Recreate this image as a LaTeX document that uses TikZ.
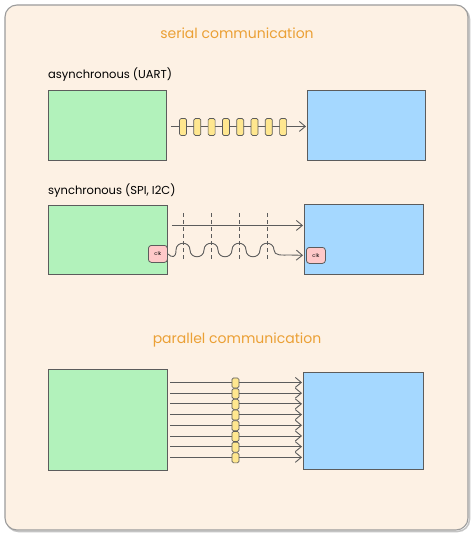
\documentclass[tikz,border=0pt]{standalone}
\usepackage{fontspec}
\setmainfont{Poppins}
\usetikzlibrary{arrows.meta,calc}
\definecolor{paper}{HTML}{FDF1E4}
\definecolor{framegray}{HTML}{9C9C9C}
\definecolor{inkgray}{HTML}{5C5C5C}
\definecolor{titleorange}{HTML}{EBA035}
\definecolor{txgreen}{HTML}{B2F2BB}
\definecolor{rxblue}{HTML}{A5D8FF}
\definecolor{bityellow}{HTML}{FFE78F}
\definecolor{clkpink}{HTML}{FFC9C9}
\tikzset{
	devbox/.style={draw=inkgray, line width=0.9pt, inner sep=0pt, anchor=north west},
	txbox/.style={devbox, fill=txgreen},
	rxbox/.style={devbox, fill=rxblue},
	wire/.style={draw=inkgray, line width=0.9pt, -{Straight Barb[length=6pt,width=10pt]}},
	bit/.style={draw=inkgray, fill=bityellow, line width=0.7pt, rounded corners=1.5pt, minimum width=7, minimum height=17, inner sep=0pt},
	pbit/.style={bit, minimum height=10},
	clkbox/.style={draw=inkgray, fill=clkpink, line width=0.8pt, rounded corners=3pt, inner sep=0pt, anchor=north west, font=\fontsize{5}{6}\selectfont},
	heading/.style={text=titleorange, font=\fontsize{14}{16}\selectfont},
	caption/.style={anchor=west, inner sep=0pt, font=\fontsize{11.5}{13}\selectfont},
	tick/.style={draw=inkgray, line width=0.7pt, dash pattern=on 4pt off 3pt}
}

\begin{document}
\begin{tikzpicture}[x=1pt, y=-1pt]
		%%%%% START %%%%%
		\useasboundingbox[fill=white] (0, 0) rectangle (474, 537);
		
		\draw[line width=1.5pt, color=framegray!60, rounded corners=12pt] (6.5, 7) rectangle (469.5, 531.5);
		\draw[line width=1.1pt, color=framegray, fill=paper, rounded corners=12pt] (5, 5) rectangle (468, 530);
		
		% serial, asynchronous
		\node[heading] (serial) at (237, 33) {serial communication};
		\node[caption] (async) at (48, 75) {asynchronous (UART)};
		\node[txbox, minimum width=118, minimum height=70] (tx1) at (48, 90) {};
		\node[rxbox, minimum width=118, minimum height=70] (rx1) at (307, 90) {};
		\draw[wire, shorten <=4pt, shorten >=1pt] ($(tx1.east)+(0, 1)$) -- ($(rx1.west)+(0, 1)$);
		\foreach \i in {0,...,7}
			\node[bit] (u\i) at ({183+14.3*\i}, 127) {};
		
		% serial, synchronous
		\node[caption] (sync) at (48, 191) {synchronous (SPI, I2C)};
		\node[txbox, minimum width=119, minimum height=69] (tx2) at (48, 205) {};
		\node[rxbox, minimum width=119, minimum height=70] (rx2) at (304, 204) {};
		\node[clkbox, minimum width=19, minimum height=17] (clkA) at (148, 245) {clk};
		\node[clkbox, minimum width=19, minimum height=16] (clkB) at (306, 247) {clk};
		
		\foreach \x in {183, 211, 239, 267}
			\draw[tick] (\x, 213) -- (\x, 261);
		
		\draw[wire, shorten <=4pt, shorten >=1pt] ($(tx2.east)+(0, -14.5)$) -- ($(rx2.west)+(0, -14)$);
		\draw[wire, shorten >=3pt] (clkA.east) .. controls (172, 258) and (176, 258) .. (176, 250)
			.. controls (176, 241) and (190, 241) .. (190, 250)
			.. controls (190, 259) and (204, 259) .. (204, 250)
			.. controls (204, 241) and (218, 241) .. (218, 250)
			.. controls (218, 259) and (232, 259) .. (232, 250)
			.. controls (232, 241) and (246, 241) .. (246, 250)
			.. controls (246, 259) and (260, 259) .. (260, 250)
			.. controls (260, 241) and (274, 241) .. (274, 250)
			.. controls (274, 256) and (282, 255) .. (290, 255) -- (clkB.west);
		
		% parallel
		\node[heading] (parallel) at (237, 340) {parallel communication};
		\node[txbox, minimum width=119, minimum height=101] (tx3) at (48, 369) {};
		\node[rxbox, minimum width=120, minimum height=97] (rx3) at (303, 372) {};
		\foreach \i in {0,...,7}
			\draw[wire, shorten <=2pt, shorten >=1pt] ($(tx3.east)+(0, {-37.5+10.7*\i})$) -- ($(rx3.west)+(0, {-38.5+10.7*\i})$);
		\foreach \i in {0,...,7}
			\node[pbit] (p\i) at ($(tx3.east)!.5!(rx3.west)+(0, {-37.5+10.7*\i})$) {};
		
		%%%%% END %%%%%
	\end{tikzpicture}
\end{document}
